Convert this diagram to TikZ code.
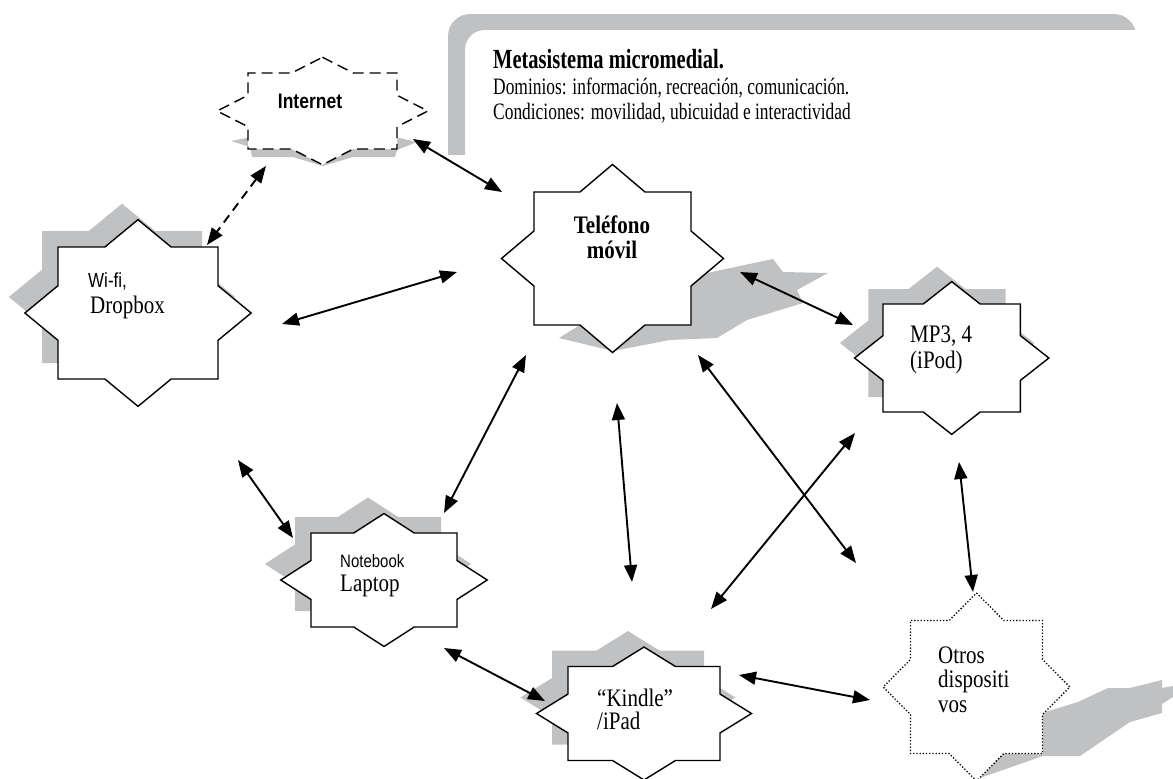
\documentclass[tikz,border=0pt]{standalone}
\usepackage{graphicx}
\usepackage{fontspec}
\setmainfont{Liberation Serif}
\newfontfamily\arialfont{Liberation Sans}
\usetikzlibrary{arrows.meta}
\definecolor{shadowgray}{RGB}{192,193,195}

% the printed lettering is slightly tall and narrow
\newcommand{\tallA}[1]{\scalebox{1}[1.2]{#1}}
\newcommand{\tallB}[1]{\scalebox{1}[1.35]{#1}}

% eight-pointed star: centre (#2,#3), half sizes of its square part #4 x #5
\newcommand{\octstar}[5][]{%
  \begin{scope}[shift={({#2},{#3})}]
    \filldraw[starline,#1] (0,{-1.4142*#5}) -- ({0.4142*#4},{-#5}) -- (#4,{-#5})
      -- (#4,{-0.4142*#5}) -- ({1.4142*#4},0) -- (#4,{0.4142*#5}) -- (#4,#5)
      -- ({0.4142*#4},#5) -- (0,{1.4142*#5}) -- ({-0.4142*#4},#5) -- ({-#4},#5)
      -- ({-#4},{0.4142*#5}) -- ({-1.4142*#4},0) -- ({-#4},{-0.4142*#5})
      -- ({-#4},{-#5}) -- ({-0.4142*#4},{-#5}) -- cycle;
  \end{scope}}

\tikzset{
  starline/.style={draw=black, fill=white, line width=1.4pt, line join=miter},
  starshadow/.style={fill=shadowgray, draw=none},
  txt/.style={anchor=base west, inner sep=0pt, font=\fontsize{21}{25}\selectfont},
  txtc/.style={anchor=base, inner sep=0pt, font=\fontsize{21}{25}\selectfont\bfseries},
  sanstxt/.style={anchor=base west, inner sep=0pt, font=\arialfont\fontsize{#1}{20}\selectfont},
  conn/.style={line width=1.9pt, {Triangle[length=17pt,width=13pt]}-{Triangle[length=17pt,width=13pt]}},
}

\begin{document}
\begin{tikzpicture}[x=1pt,y=-1pt]
\useasboundingbox (0,0) rectangle (1173,779);

% caption panel
\fill[shadowgray, rounded corners=22pt] (448,14) rectangle (1136,155);
\fill[shadowgray] (448,120) rectangle (470,155);
\fill[white, rounded corners=20pt] (465,30) rectangle (1200,185);
\node[anchor=base west, inner sep=0pt, font=\fontsize{20.5}{24}\selectfont\bfseries] (title) at (493,68) {\tallB{Metasistema micromedial.}};
\node[anchor=base west, inner sep=0pt, font=\fontsize{17.4}{20}\selectfont] (dominios) at (493,94) {\tallB{Dominios: información, recreación, comunicación.}};
\node[anchor=base west, inner sep=0pt, font=\fontsize{17.4}{20}\selectfont] (condiciones) at (493,119) {\tallB{Condiciones: movilidad, ubicuidad e interactividad}};

% shadows
\fill[shadowgray] (231,141) -- (252,137) -- (395,137) -- (417,142) -- (397,150) -- (395,157)
  -- (353,157) -- (323,166) -- (293,157) -- (252,157) -- (250,147) -- cycle;
\octstar[starshadow]{122}{297}{80}{66}
\fill[shadowgray] (559,338) -- (580,325) -- (691,275) -- (707,273) -- (773,259) -- (783,272)
  -- (828,273) -- (797,290) -- (803,303) -- (747,320) -- (717,338) -- (670,340)
  -- (613,351) -- cycle;
\octstar[starshadow]{937}{343}{68.7}{54}
\octstar[starshadow]{368}{564}{73}{47}
\octstar[starshadow]{628}{697.5}{76}{47}
\fill[shadowgray] (977,779) -- (1000,740) -- (1042,713) -- (1078,702) -- (1108,688) -- (1130,688)
  -- (1162,680) -- (1162,688) -- (1173,686) -- (1173,697) -- (1162,704) -- (1162,713)
  -- (1130,722) -- (1080,756) -- (1043,756) -- cycle;

% stars
\octstar[dash pattern=on 11pt off 6pt]{322.5}{111}{74.5}{38}
\octstar{138}{313}{80}{66}
\octstar{612.5}{258.5}{78.5}{66.5}
\octstar{951.7}{358}{68.7}{54}
\octstar{384}{580}{73}{47}
\octstar{644}{713.5}{76}{47}
\octstar[line width=1.3pt, dash pattern=on 1.3pt off 1.9pt]{976.5}{687}{66}{66.5}

% labels
\node[anchor=base, inner sep=0pt, font=\arialfont\bfseries\fontsize{17.5}{20}\selectfont] (internet) at (310,108) {\tallA{Internet}};
\node[sanstxt=17] (wifi) at (88,287) {\tallA{Wi-fi,}};
\node[txt] (dropbox) at (90,313) {\tallA{Dropbox}};
\node[txtc] (telefono) at (612,233) {\tallA{Teléfono}};
\node[txtc] (movil) at (612,258) {\tallA{móvil}};
\node[txt] (mp3) at (910,342) {\tallA{MP3, 4}};
\node[txt] (ipod) at (910,368) {\tallA{(iPod)}};
\node[sanstxt=15] (notebook) at (340,567) {\tallA{Notebook}};
\node[txt] (laptop) at (340,591) {\tallA{Laptop}};
\node[txt] (kindle) at (597,706) {\tallA{“Kindle”}};
\node[txt] (ipad) at (597,729) {\tallA{/iPad}};
\node[txt] (otros) at (938,663) {\tallA{Otros}};
\node[txt] (dispositi) at (938,687) {\tallA{dispositi}};
\node[txt] (vos) at (938,712) {\tallA{vos}};

% connector ends
\coordinate (iA) at (413,139);  \coordinate (tA) at (502,192);
\coordinate (iB) at (266,166);  \coordinate (wA) at (207,245);
\coordinate (wB) at (282,324);  \coordinate (tB) at (457,272);
\coordinate (tC) at (740,272);  \coordinate (mA) at (853,325);
\coordinate (tD) at (526,355);  \coordinate (nA) at (444,513);
\coordinate (tE) at (617,403);  \coordinate (kA) at (632,582);
\coordinate (tF) at (698,355);  \coordinate (oA) at (856,563);
\coordinate (mB) at (855,433);  \coordinate (kB) at (711,609);
\coordinate (mC) at (959,462);  \coordinate (oB) at (973,592);
\coordinate (wC) at (238,460);  \coordinate (nB) at (293,538);
\coordinate (nC) at (444,648);  \coordinate (kC) at (545,701);
\coordinate (kD) at (739,675);  \coordinate (oC) at (870,700);

% connectors
\draw[conn] (iA) -- (tA);
\draw[conn, dash pattern=on 9pt off 6pt] (iB) -- (wA);
\draw[conn] (wB) -- (tB);
\draw[conn] (tC) -- (mA);
\draw[conn] (tD) -- (nA);
\draw[conn] (tE) -- (kA);
\draw[conn] (tF) -- (oA);
\draw[conn] (mB) -- (kB);
\draw[conn] (mC) -- (oB);
\draw[conn] (wC) -- (nB);
\draw[conn] (nC) -- (kC);
\draw[conn] (kD) -- (oC);
\end{tikzpicture}
\end{document}
